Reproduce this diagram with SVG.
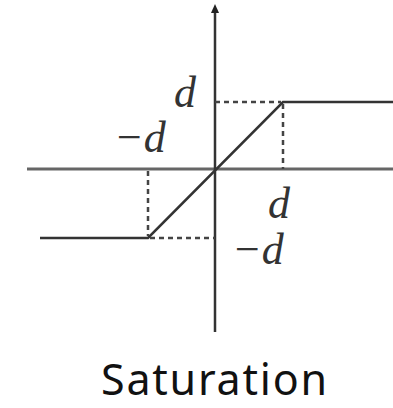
<svg xmlns="http://www.w3.org/2000/svg" width="393" height="408" viewBox="0 0 393 408">
<style>
.ax{stroke:#666;stroke-width:3;fill:none}
.ln{stroke:#333;stroke-width:2.5;fill:none}
.ds{stroke:#444;stroke-width:2.5;stroke-dasharray:5,4;fill:none}
.m{font-family:"Liberation Serif",serif;font-style:italic;font-size:44px;fill:#333}
.t{font-family:"Noto Sans",sans-serif;font-size:43px;fill:#111}
</style>
<g id="axes">
<line class="ax" x1="27" y1="169" x2="393" y2="169"/>
<line class="ln" x1="215" y1="332" x2="215" y2="10"/>
<path d="M211,13 L215,4 L219,13 Z" fill="#222"/>
</g>
<g id="curve">
<polyline class="ln" points="40,238 148,238 283,102 393,102"/>
<line class="ds" x1="215" y1="102" x2="281" y2="102"/>
<line class="ds" x1="283" y1="104" x2="283" y2="169"/>
<line class="ds" x1="148" y1="171" x2="148" y2="236"/>
<line class="ds" x1="150" y1="238" x2="215" y2="238"/>
</g>
<g id="labels">
<text class="m" x="174" y="107">d</text>
<text class="m" x="114" y="152">−d</text>
<text class="m" x="268" y="218">d</text>
<text class="m" x="232" y="264">−d</text>
<text class="t" x="214" y="395" text-anchor="middle" textLength="226">Saturation</text>
</g>
</svg>
